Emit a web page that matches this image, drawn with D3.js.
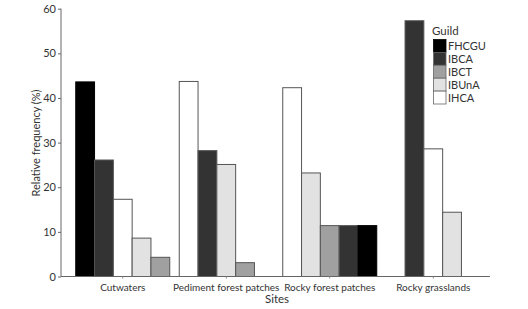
<!DOCTYPE html>
<html><head><meta charset="utf-8">
<script src="https://cdn.jsdelivr.net/npm/d3@7"></script>
<style>body{margin:0;background:#fff}svg{display:block}text{font-family:Lato,"Open Sans",sans-serif;fill:#333}</style>
</head><body><svg id="c" width="528" height="309"></svg>
<script>
const sites = ["Cutwaters","Pediment forest patches","Rocky forest patches","Rocky grasslands"];
const guilds = ["FHCGU","IBCA","IBCT","IBUnA","IHCA"];
const guildColors = ["#000000","#333333","#a0a0a0","#e2e2e2","#ffffff"];
const yTicks = [0,10,20,30,40,50,60];
// bars per site, in displayed order
const cutwatersGuilds = ["FHCGU","IBCA","IHCA","IBUnA","IBCT"];
const cutwatersValues = [43.6,26.1,17.3,8.6,4.3];
const pedimentGuilds = ["IHCA","IBCA","IBUnA","IBCT","FHCGU"];
const pedimentValues = [43.7,28.2,25.1,3.1,0];
const rockyForestGuilds = ["IHCA","IBUnA","IBCT","IBCA","FHCGU"];
const rockyForestValues = [42.3,23.2,11.4,11.4,11.4];
const grasslandsGuilds = ["IBCA","IHCA","IBUnA"];
const grasslandsValues = [57.3,28.6,14.4];

const groups = [
  {site:sites[0], g:cutwatersGuilds, v:cutwatersValues},
  {site:sites[1], g:pedimentGuilds, v:pedimentValues},
  {site:sites[2], g:rockyForestGuilds, v:rockyForestValues},
  {site:sites[3], g:grasslandsGuilds, v:grasslandsValues}
];

const svg = d3.select("#c");
const x0 = 61, x1 = 490, yTop = 8.7, yBot = 276.5;
const y = d3.scaleLinear().domain([0,60]).range([yBot, yTop]);
const x = d3.scaleBand().domain(sites).range([71, 485]).padding(0);
const color = d3.scaleOrdinal().domain(guilds).range(guildColors);
const slot = d3.scaleBand().domain(d3.range(5)).range([0, 94]).padding(0);
const bw = slot.bandwidth();

groups.forEach(gr => {
  const n = gr.g.length;
  const cx = x(gr.site) + x.bandwidth()/2;
  const start = cx - n*bw/2;
  svg.append("g").selectAll("rect").data(gr.g.map((g,i)=>({g, v:gr.v[i], i})).filter(d=>d.v>0))
    .join("rect")
    .attr("x", d => start + slot(d.i))
    .attr("y", d => y(d.v))
    .attr("width", bw)
    .attr("height", d => y(0) - y(d.v))
    .attr("fill", d => color(d.g))
    .attr("stroke", d => d.g==="FHCGU" ? "#000" : "#555")
    .attr("stroke-width", 1);
});

// y axis
const ya = svg.append("g").attr("transform", `translate(${x0},0)`)
  .call(d3.axisLeft(y).tickValues(yTicks).tickSize(3).tickPadding(2));
ya.select(".domain").attr("stroke","#666").attr("d", `M0,${yTop}V${yBot}`);
ya.selectAll(".tick line").attr("stroke","#666");
ya.selectAll("text").attr("font-size", 11).attr("fill","#333").style("font-family","Lato,sans-serif");

// x axis
const xa = svg.append("g").attr("transform", `translate(0,${yBot})`);
xa.append("line").attr("x1", x0).attr("x2", x1).attr("stroke","#666");
xa.selectAll("line.t").data(sites).join("line").attr("class","t")
  .attr("x1", d=>x(d)+x.bandwidth()/2).attr("x2", d=>x(d)+x.bandwidth()/2)
  .attr("y1",0).attr("y2",2).attr("stroke","#888");
xa.selectAll("text").data(sites).join("text")
  .attr("x", d=>x(d)+x.bandwidth()/2).attr("y", 14)
  .attr("text-anchor","middle").attr("font-size", 10).text(d=>d);

svg.append("text").attr("x", 277).attr("y", 303).attr("text-anchor","middle")
  .attr("font-size", 11.5).text("Sites");
svg.append("text").attr("transform","translate(40,143) rotate(-90)")
  .attr("text-anchor","middle").attr("font-size", 11).text("Relative frequency (%)");

// legend
const lg = svg.append("g");
lg.append("text").attr("x", 432).attr("y", 35).attr("font-size", 11.5).text("Guild");
const sh = 12.9;
lg.selectAll("rect").data(guilds).join("rect")
  .attr("x", 433.5).attr("y", (d,i)=>39.5 + i*sh).attr("width", 12.5).attr("height", sh)
  .attr("fill", d=>color(d)).attr("stroke", d=> d==="FHCGU" ? "#000":"#666").attr("stroke-width",0.8);
lg.selectAll("text.l").data(guilds).join("text").attr("class","l")
  .attr("x", 448).attr("y", (d,i)=>39.5 + i*sh + sh/2 + 4).attr("font-size", 11).text(d=>d);
</script></body></html>
